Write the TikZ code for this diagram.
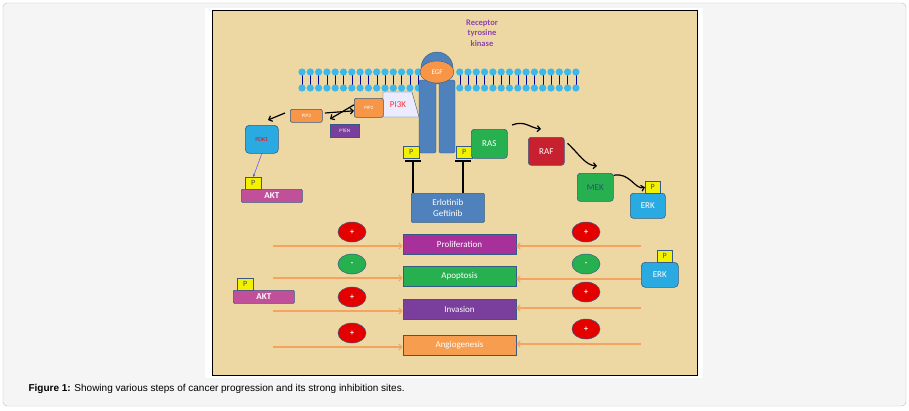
\documentclass[tikz,border=0pt]{standalone}
\usepackage{fontspec}
\setmainfont{Carlito}
\newfontfamily\capfont{Liberation Sans}
\usetikzlibrary{arrows.meta,shapes.geometric}
\definecolor{parch}{HTML}{EDD8A4}
\definecolor{rblue}{HTML}{4F81BD}
\definecolor{cyanb}{HTML}{29ABE2}
\definecolor{orng}{HTML}{F79646}
\definecolor{ylw}{HTML}{F2F200}
\definecolor{akt}{HTML}{C0509A}
\definecolor{grn}{HTML}{27B050}
\definecolor{redb}{HTML}{C7202E}
\definecolor{prol}{HTML}{A8309A}
\definecolor{inv}{HTML}{7A3F9D}
\definecolor{angi}{HTML}{F79D50}
\definecolor{oarr}{HTML}{F4A460}
\definecolor{memb}{HTML}{3DB8E8}
\definecolor{kin}{HTML}{8E44AD}
\begin{document}
\begin{tikzpicture}[x=1pt,y=-1pt,
  box/.style={draw=rblue!70!black,line width=0.6pt,rounded corners=2pt,inner sep=0pt,anchor=north west,text=white},
  pbox/.style={draw=rblue!70!black,fill=ylw,line width=0.5pt,inner sep=0pt,minimum width=16pt,minimum height=12pt,anchor=north west,font=\fontsize{8}{8}\selectfont,text=black!70},
  proc/.style={draw=rblue!70!black,line width=0.6pt,inner sep=0pt,minimum width=113pt,minimum height=20pt,text=white,font=\fontsize{9}{9}\selectfont},
  sign/.style={ellipse,draw=rblue!70!black,line width=0.5pt,minimum width=28pt,minimum height=20pt,inner sep=0pt,text=white,font=\bfseries\fontsize{8}{8}\selectfont},
  plus/.style={sign,fill=red!90!black},
  minus/.style={sign,fill=grn},
  oar/.style={draw=oarr,line width=1.2pt,-{Straight Barb[length=3pt,width=6pt]}},
  bar/.style={draw=black,line width=1.5pt},
  blk/.style={draw=black,line width=1.2pt,-{Straight Barb[length=3pt,width=6pt]}}]
\useasboundingbox (0,0) rectangle (909,410);
\fill[white] (0,0) rectangle (909,410);
\draw[gray!50,rounded corners=4pt,fill=gray!8] (3,3) rectangle (906,406);
\fill[white] (205,8) rectangle (703,378);
\draw[black,line width=0.8pt,fill=parch] (212,10) rectangle (697,375);
\node[anchor=west,font=\capfont\fontsize{10}{10}\selectfont] (cap) at (25,389) {\textbf{Figure 1:} Showing various steps of cancer progression and its strong inhibition sites.};
% title
\node[text=kin,font=\bfseries\fontsize{8.5}{10.5}\selectfont,align=center] (title) at (482,33) {Receptor\\tyrosine\\kinase};
% membrane
\foreach \x in {0,...,33}{
  \pgfmathsetmacro\xx{302+\x*8.3}
  \ifdim\xx pt<420pt \draw[blue!60!black,line width=0.4pt] (\xx,72) -- (\xx,88); \fi
  \ifdim\xx pt>455pt \draw[blue!60!black,line width=0.4pt] (\xx,72) -- (\xx,88); \fi
}
\foreach \x in {0,...,33}{
  \pgfmathsetmacro\xx{302+\x*8.3}
  \ifdim\xx pt<420pt \fill[memb] (\xx,72) circle (3.6) (\xx,88) circle (3.6); \fi
  \ifdim\xx pt>455pt \fill[memb] (\xx,72) circle (3.6) (\xx,88) circle (3.6); \fi
}
% receptor
\fill[rblue,draw=rblue!70!black] (437,68) circle (16);
\draw[rblue!70!black,fill=rblue,rounded corners=2pt] (419,80) rectangle (436,153);
\draw[rblue!70!black,fill=rblue,rounded corners=2pt] (439,80) rectangle (455,153);
\node[ellipse,fill=orng,draw=rblue!70!black,minimum width=34pt,minimum height=22pt,inner sep=0pt,text=white,font=\fontsize{7}{7}\selectfont] (egf) at (437,72) {EGF};
% PI3K
\draw[rblue!70!black,fill=blue!8] (383,117) -- (383,92) -- (412,92) -- (419,117) -- cycle;
\node[text=red!80,font=\fontsize{9}{9}\selectfont] (pi3k) at (398,105) {PI3K};
\node[box,fill=orng,minimum width=29pt,minimum height=19pt,font=\fontsize{5}{5}\selectfont] (pip2) at (354,98) {PIP2};
\node[box,fill=orng,minimum width=32pt,minimum height=13pt,font=\fontsize{5}{5}\selectfont] (pip3) at (290,109) {PIP3};
\node[box,fill=inv,rounded corners=0pt,minimum width=29pt,minimum height=13pt,font=\fontsize{5}{5}\selectfont] (pten) at (330,124) {PTEN};
\node[box,fill=cyanb,rounded corners=4pt,minimum width=33pt,minimum height=28pt,text=red,font=\fontsize{6}{6}\selectfont] (pdk) at (245,125) {PDK1};
\node[pbox] (p1) at (245,177) {P};
\node[box,fill=akt,rounded corners=1pt,minimum width=61pt,minimum height=13pt,font=\bfseries\fontsize{9}{9}\selectfont] (akt1) at (241,189) {AKT};
\draw[blue!70,line width=0.5pt,-{Stealth[length=3pt]}] (pdk.south) -- (p1.north);
\coordinate (k1) at (285,113);
\draw[blk] (k1) -- (268,120);
\draw[blk] (325,113) -- ([yshift=-3pt]pip2.west);
\draw[blk] ([yshift=3pt]pip2.west) -- (330,119);
% receptor P and inhibitors
\node[pbox] (pl) at (403,146) {P};
\node[pbox] (pr) at (456,146) {P};
\node[box,fill=rblue,rounded corners=1pt,minimum width=73pt,minimum height=29pt,align=center,font=\fontsize{9}{11}\selectfont] (drug) at (411,193) {Erlotinib\\Geftinib};
\coordinate (tl) at (413,161); \coordinate (tr) at (463,161);
\draw[bar] (tl) -- (tl |- drug.north);
\draw[bar] (tr) -- (tr |- drug.north);
\draw[bar] ([xshift=-8pt]tl) -- ([xshift=8pt]tl);
\draw[bar] ([xshift=-8pt]tr) -- ([xshift=8pt]tr);
% MAPK
\node[box,fill=grn,rounded corners=3pt,minimum width=36pt,minimum height=29pt,font=\fontsize{9}{9}\selectfont] (ras) at (471,129) {RAS};
\node[box,fill=redb,rounded corners=3pt,minimum width=36pt,minimum height=28pt,font=\fontsize{9}{9}\selectfont] (raf) at (528,137) {RAF};
\node[box,fill=grn,rounded corners=3pt,minimum width=36pt,minimum height=28pt,text=rblue!60!black,font=\fontsize{9}{9}\selectfont] (mek) at (577,173) {MEK};
\node[box,fill=cyanb,rounded corners=3pt,minimum width=35pt,minimum height=25pt,font=\fontsize{9}{9}\selectfont] (erk1) at (630,193) {ERK};
\node[pbox,minimum width=15pt] (p2) at (645,181) {P};
\coordinate (c1) at (512,125);
\draw[blk] (c1) .. controls (525,120) and (530,128) .. (541,129);
\draw[blk] (raf.east) ++(3,-8) .. controls (580,155) and (585,165) .. (597,166);
\draw[blk] (mek.east) ++(0,-12) .. controls (630,172) and (635,190) .. (p2.west);
% processes
\node[proc,fill=prol] (prol) at (459.5,244) {Proliferation};
\node[proc,fill=grn] (apop) at (459.5,276) {Apoptosis};
\node[proc,fill=inv] (inv) at (459.5,309) {Invasion};
\node[proc,fill=angi] (ang) at (459.5,345) {Angiogenesis};
\node[plus] (l1) at (352,232) {+};
\node[minus] (l2) at (352,264) {-};
\node[plus] (l3) at (352,297) {+};
\node[plus] (l4) at (352,333) {+};
\node[plus] (r1) at (586,232) {+};
\node[minus] (r2) at (586,264) {-};
\node[plus] (r3) at (586,292) {+};
\node[plus] (r4) at (586,329) {+};
\coordinate (a1) at (273,246); \coordinate (a2) at (273,278); \coordinate (a3) at (273,311); \coordinate (a4) at (273,347);
\coordinate (b1) at (641,246); \coordinate (b2) at (641,279); \coordinate (b3) at (641,308); \coordinate (b4) at (641,344);
\draw[oar] (a1) -- (prol.west |- a1);
\draw[oar] (a2) -- (apop.west |- a2);
\draw[oar] (a3) -- (inv.west |- a3);
\draw[oar] (a4) -- (ang.west |- a4);
\draw[oar] (b1) -- (prol.east |- b1);
\draw[oar] (b2) -- (apop.east |- b2);
\draw[oar] (b3) -- (inv.east |- b3);
\draw[oar] (b4) -- (ang.east |- b4);
\node[pbox] (p3) at (237,278) {P};
\node[box,fill=akt,rounded corners=1pt,minimum width=61pt,minimum height=13pt,font=\bfseries\fontsize{9}{9}\selectfont] (akt2) at (233,290) {AKT};
\node[box,fill=cyanb,rounded corners=4pt,minimum width=37pt,minimum height=25pt,font=\fontsize{9}{9}\selectfont] (erk2) at (641,262) {ERK};
\node[pbox,minimum width=15pt] (p4) at (657,250) {P};
\end{tikzpicture}
\end{document}
